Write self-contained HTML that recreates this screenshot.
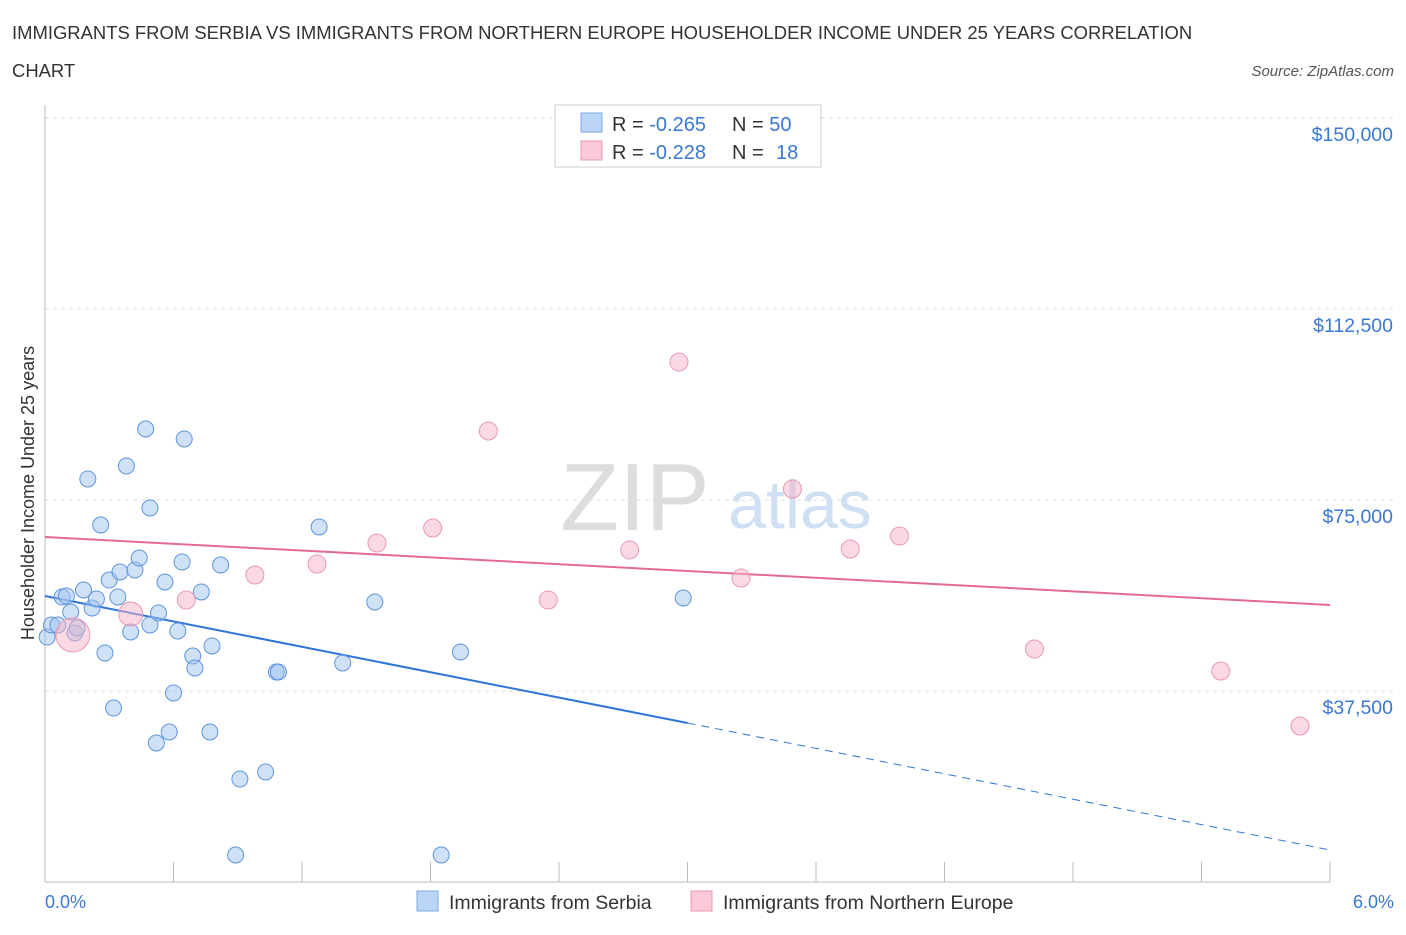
<!DOCTYPE html>
<html><head><meta charset="utf-8"><style>
body{margin:0;background:#fff;font-family:"Liberation Sans",sans-serif;}
svg text{font-family:"Liberation Sans",sans-serif;}
</style></head><body>
<svg id="c" width="1406" height="930" xmlns="http://www.w3.org/2000/svg">
<text x="12" y="39" font-size="18.45" fill="#333">IMMIGRANTS FROM SERBIA VS IMMIGRANTS FROM NORTHERN EUROPE HOUSEHOLDER INCOME UNDER 25 YEARS CORRELATION</text>
<text x="12" y="77" font-size="18.45" fill="#333">CHART</text>
<text x="1394" y="76" font-size="15" fill="#555" font-style="italic" text-anchor="end">Source: ZipAtlas.com</text>
<text x="635" y="530" font-size="96" fill="#ddd" font-family="Liberation Serif" text-anchor="middle">ZIP</text>
<text x="800" y="528" font-size="68" fill="#cfe0f5" text-anchor="middle">atlas</text>
<g id="grid"></g><g id="axes"></g><g id="trend"></g><g id="pts"></g>
<text transform="translate(34,493) rotate(-90)" font-size="18" fill="#333" text-anchor="middle">Householder Income Under 25 years</text>
<text x="45" y="908" font-size="18" fill="#3a78d4">0.0%</text>
<text x="1394" y="908" font-size="18" fill="#3a78d4" text-anchor="end">6.0%</text>
<g>
<rect x="555" y="105" width="266" height="62" fill="#fff" stroke="#ccc"/>
<rect x="581" y="113" width="21" height="19" fill="#bcd5f7" stroke="#7aa9e6"/>
<rect x="581" y="141" width="21" height="19" fill="#fbc9d7" stroke="#e89ab0"/>
<text x="612" y="131" font-size="20" fill="#333">R = <tspan fill="#3a78d4">-0.265</tspan><tspan x="732">N = </tspan><tspan fill="#3a78d4">50</tspan></text>
<text x="612" y="159" font-size="20" fill="#333">R = <tspan fill="#3a78d4">-0.228</tspan><tspan x="732">N = </tspan><tspan fill="#3a78d4" x="776">18</tspan></text>
</g>
<g>
<rect x="417" y="891" width="21" height="20" fill="#bcd5f7" stroke="#7aa9e6"/>
<text x="449" y="909" font-size="19.5" fill="#333">Immigrants from Serbia</text>
<rect x="691" y="891" width="21" height="20" fill="#fbc9d7" stroke="#e89ab0"/>
<text x="723" y="909" font-size="19.5" fill="#333">Immigrants from Northern Europe</text>
</g>
</svg>
<script>
const yTicks=[37500,75000,112500,150000];
const yTickLabels=["$37,500","$75,000","$112,500","$150,000"];
const blueX=[0.01,0.03,0.06,0.08,0.10,0.12,0.14,0.15,0.18,0.20,0.22,0.24,0.26,0.28,0.30,0.32,0.34,0.35,0.38,0.40,0.42,0.44,0.47,0.49,0.49,0.52,0.53,0.56,0.58,0.60,0.62,0.64,0.65,0.69,0.70,0.73,0.77,0.78,0.82,0.89,0.91,1.03,1.08,1.09,1.28,1.39,1.54,1.85,1.94,2.98];
const blueY=[48100,50460,50460,55960,56150,53010,48890,49870,57330,79130,53800,55560,70090,44960,59290,34160,55960,60870,81680,49090,61260,63610,88940,50460,73430,27290,52810,58900,29450,37110,49280,62830,86980,44370,42020,56940,29450,46340,62240,5300,20220,21600,41230,41230,69700,43000,54980,5300,45160,55760];
const pinkX=[0.13,0.40,0.66,0.98,1.27,1.55,1.81,2.07,2.35,2.73,2.96,3.25,3.49,3.76,3.99,4.62,5.49,5.86];
const pinkY=[48500,52620,55370,60280,62440,66560,69500,88550,55370,65190,102100,59690,77160,65380,67930,45750,41430,30630];
const pinkR=[17,12,9,9,9,9,9,9,9,9,9,9,9,9,9,9,9,9];
const blueTrend=[56150,6280];
const pinkTrend=[67740,54390];
const X=v=>45+v/6*1285, Y=v=>882-v/37500*191;
const NS="http://www.w3.org/2000/svg";
function mk(t,a,p){const e=document.createElementNS(NS,t);for(const k in a)e.setAttribute(k,a[k]);document.getElementById(p).appendChild(e);return e;}
yTicks.forEach((t,i)=>{
 const l=mk('line',{x1:45,x2:1394,y1:Y(t),y2:Y(t),stroke:'#ddd','stroke-dasharray':'4,4'},'grid');
 
 
 const tx=mk('text',{x:1393,y:Y(t)+23,'font-size':19.5,fill:'#3a78d4','text-anchor':'end'},'grid');
 tx.textContent=yTickLabels[i];
 
 
});
let a=mk('line',{x1:45,x2:45,y1:105,y2:882,stroke:'#bbb'},'axes');


a=mk('line',{x1:45,x2:1330,y1:882,y2:882,stroke:'#bbb'},'axes');


for(let i=0;i<=10;i++){const t=mk('line',{x1:X(i*0.6),x2:X(i*0.6),y1:862,y2:882,stroke:'#bbb'},'axes');
 
 }
const bAt=x=>blueTrend[0]+(blueTrend[1]-blueTrend[0])*x/6;
let t1=mk('line',{x1:X(0),y1:Y(bAt(0)),x2:X(3),y2:Y(bAt(3)),stroke:'#2f74d8','stroke-width':2},'trend');


let t2=mk('line',{x1:X(3),y1:Y(bAt(3)),x2:X(6),y2:Y(bAt(6)),stroke:'#2f74d8','stroke-width':1,'stroke-dasharray':'8,6'},'trend');


let t3=mk('line',{x1:X(0),y1:Y(pinkTrend[0]),x2:X(6),y2:Y(pinkTrend[1]),stroke:'#e46a92','stroke-width':2},'trend');


blueX.forEach((x,i)=>{const c=mk('circle',{cx:X(x),cy:Y(blueY[i]),r:8,fill:'rgba(160,195,240,0.5)',stroke:'#5f95df','stroke-width':1},'pts');
 
 });
pinkX.forEach((x,i)=>{const c=mk('circle',{cx:X(x),cy:Y(pinkY[i]),r:pinkR[i],fill:'rgba(245,180,200,0.5)',stroke:'#e89ab0','stroke-width':1},'pts');
 
 });
</script>
</body></html>
